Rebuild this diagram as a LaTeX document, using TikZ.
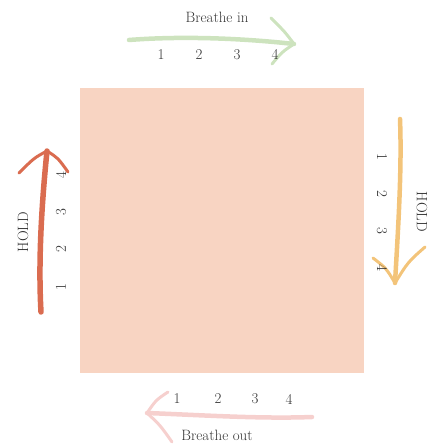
\documentclass[tikz,border=0pt]{standalone}
\usepackage{xcolor}
\usepackage{tikz}
\usetikzlibrary{calc}

\definecolor{boxfill}{HTML}{F8D4C2}
\definecolor{inarrow}{HTML}{CDE3BE}
\definecolor{holdright}{HTML}{F3C47A}
\definecolor{holdleft}{HTML}{DA6C50}
\definecolor{outarrow}{HTML}{F6D0CE}
\definecolor{inktext}{HTML}{333333}

\begin{document}
\begin{tikzpicture}[
    x=1bp,
    y=-1bp,
    font=\fontsize{15}{17}\selectfont,
    text=inktext,
    shaft/.style={
        line width=4.5bp,
        line cap=round
    },
    barb/.style={
        line width=3bp,
        line cap=round
    },
    lab/.style={
        inner sep=0pt
    },
    count/.style={
        inner sep=0pt
    }
]
\useasboundingbox (0,0) rectangle (433,445);

% The square itself
\node[fill=boxfill, minimum width=284bp, minimum height=285bp, inner sep=0pt] (sq) at (222,230.5) {};


% Top side --- breathe in (left to right)
\coordinate (inA) at (129,40);
\coordinate (inB) at (294,44);
\draw[inarrow, shaft] (inA) .. controls (180,36) and (240,38) .. (inB);
\draw[inarrow, barb] (inB) .. controls (285,32) .. (271,18);
\draw[inarrow, barb] (inB) .. controls (282,52) .. (272,64);
\node[lab] (inlab) at (217,17) {Breathe in};
\foreach \n/\x in {1/161, 2/199, 3/237, 4/275}
    \node[count] (in\n) at (\x,55) {\n};


% Right side --- hold (top to bottom)
\coordinate (hrA) at (400,119);
\coordinate (hrB) at (395,283);
\draw[holdright, shaft] (hrA) .. controls (402,170) and (398,230) .. (hrB);
\draw[holdright, barb] (hrB) .. controls (386,268) .. (373,258);
\draw[holdright, barb] (hrB) .. controls (408,262) .. (425,247);
\node[lab, rotate=-90] (hrlab) at (422,212) {HOLD};
\foreach \n/\y in {1/157, 2/194, 3/231, 4/268}
    \node[count, rotate=-90] (hr\n) at (382,\y) {\n};


% Bottom side --- breathe out (right to left)
\coordinate (outA) at (312,417);
\coordinate (outB) at (147,413);
\draw[outarrow, shaft] (outA) .. controls (260,419) and (200,415) .. (outB);
\draw[outarrow, barb] (outB) .. controls (156,400) .. (168,392);
\draw[outarrow, barb] (outB) .. controls (160,425) .. (172,442);
\node[lab] (outlab) at (217,435) {Breathe out};
\foreach \n/\x in {1/177, 2/218, 3/255, 4/289}
    \node[count] (out\n) at (\x,399) {\n};


% Left side --- hold (bottom to top)
\coordinate (hlA) at (41,312);
\coordinate (hlB) at (47,151);
\draw[holdleft, shaft, line width=5.5bp] (hlA) .. controls (38,260) and (42,200) .. (hlB);
\draw[holdleft, barb] (hlB) .. controls (34,158) .. (19,173);
\draw[holdleft, barb] (hlB) .. controls (58,158) .. (68,172);
\node[lab, rotate=90] (hllab) at (23,232) {HOLD};
\foreach \n/\y in {1/287, 2/249, 3/212, 4/175}
    \node[count, rotate=90] (hl\n) at (61,\y) {\n};

\end{tikzpicture}
\end{document}
